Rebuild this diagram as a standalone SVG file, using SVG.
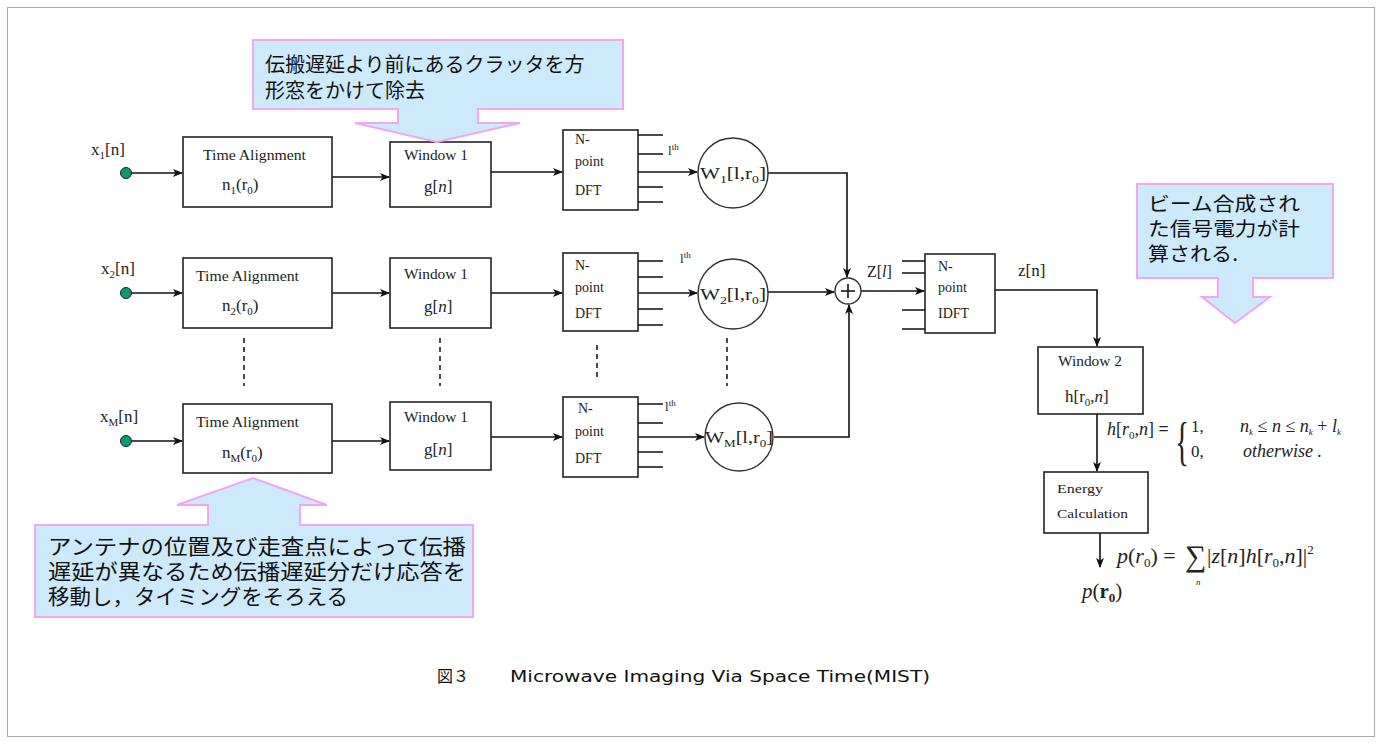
<svg xmlns="http://www.w3.org/2000/svg" width="1381" height="744" viewBox="0 0 1381 744">
<defs>
<marker id="ar" markerWidth="10" markerHeight="8" refX="9" refY="4" orient="auto" markerUnits="userSpaceOnUse">
<path d="M0,0 L10,4 L0,8 L2.5,4 Z" fill="#111"/>
</marker>
</defs>
<style>
.bx{fill:#fff;stroke:#222;stroke-width:1.6}
.ln{fill:none;stroke:#111;stroke-width:1.6}
.da{fill:none;stroke:#111;stroke-width:1.5;stroke-dasharray:5 4}
.t{font-family:"Liberation Serif",serif;fill:#222}
.s{font-size:14px}
.m{font-size:17px}
.co{fill:#cdeafc;stroke:#f2a6f0;stroke-width:2}
.j{font-family:"Noto Sans CJK JP",sans-serif;fill:#111}
.dot{fill:#0b9a6a;stroke:#124;stroke-width:1}
.cir{fill:#fff;stroke:#333;stroke-width:1.4}
</style>
<rect x="7.5" y="7.5" width="1367" height="729" fill="#fff" stroke="#aaa" stroke-width="1"/>

<g id="connectors">
<line class="ln" x1="130" y1="173" x2="182" y2="173" marker-end="url(#ar)"/>
<line class="ln" x1="130" y1="293" x2="182" y2="293" marker-end="url(#ar)"/>
<line class="ln" x1="130" y1="441" x2="182" y2="441" marker-end="url(#ar)"/>
<line class="ln" x1="332" y1="177" x2="389" y2="177" marker-end="url(#ar)"/>
<line class="ln" x1="332" y1="293" x2="389" y2="293" marker-end="url(#ar)"/>
<line class="ln" x1="332" y1="441" x2="389" y2="441" marker-end="url(#ar)"/>
<line class="ln" x1="491" y1="172" x2="562" y2="172" marker-end="url(#ar)"/>
<line class="ln" x1="491" y1="293" x2="562" y2="293" marker-end="url(#ar)"/>
<line class="ln" x1="491" y1="437" x2="562" y2="437" marker-end="url(#ar)"/>
<line class="ln" x1="638" y1="172" x2="697" y2="172" marker-end="url(#ar)"/>
<line class="ln" x1="638" y1="293" x2="697" y2="293" marker-end="url(#ar)"/>
<line class="ln" x1="638" y1="437" x2="704" y2="437" marker-end="url(#ar)"/>
<polyline class="ln" points="768,173 847,173 847,277" marker-end="url(#ar)"/>
<line class="ln" x1="768" y1="292" x2="834" y2="292" marker-end="url(#ar)"/>
<polyline class="ln" points="774,437 849,437 849,305" marker-end="url(#ar)"/>
<line class="ln" x1="861" y1="291" x2="924" y2="291" marker-end="url(#ar)"/>
<polyline class="ln" points="995,290 1097,290 1097,346" marker-end="url(#ar)"/>
<line class="ln" x1="1097" y1="414" x2="1097" y2="471" marker-end="url(#ar)"/>
<line class="ln" x1="1100" y1="533" x2="1100" y2="567" marker-end="url(#ar)"/>
<line class="da" x1="244" y1="338" x2="244" y2="386"/>
<line class="da" x1="440" y1="338" x2="440" y2="386"/>
<line class="da" x1="597" y1="345" x2="597" y2="380"/>
<line class="da" x1="727" y1="338" x2="727" y2="386"/>
</g>

<g id="in1"><circle class="dot" cx="126" cy="173" r="5.5"/><text class="t m" x="91" y="155">x<tspan font-size="11" dy="4">1</tspan><tspan dy="-4">[n]</tspan></text></g>
<g id="in2"><circle class="dot" cx="126" cy="293" r="5.5"/><text class="t m" x="101" y="274">x<tspan font-size="11" dy="4">2</tspan><tspan dy="-4">[n]</tspan></text></g>
<g id="inM"><circle class="dot" cx="126" cy="441" r="5.5"/><text class="t m" x="100" y="422">x<tspan font-size="11" dy="4">M</tspan><tspan dy="-4">[n]</tspan></text></g>

<g id="ta1"><rect class="bx" x="183" y="137" width="149" height="70"/><text class="t s" x="203" y="160" textLength="103" lengthAdjust="spacingAndGlyphs">Time Alignment</text><text class="t m" x="222" y="190">n<tspan font-size="11" dy="4">1</tspan><tspan dy="-4">(r</tspan><tspan font-size="11" dy="4">0</tspan><tspan dy="-4">)</tspan></text></g>
<g id="ta2"><rect class="bx" x="183" y="258" width="149" height="70"/><text class="t s" x="196" y="281" textLength="103" lengthAdjust="spacingAndGlyphs">Time Alignment</text><text class="t m" x="222" y="311">n<tspan font-size="11" dy="4">2</tspan><tspan dy="-4">(r</tspan><tspan font-size="11" dy="4">0</tspan><tspan dy="-4">)</tspan></text></g>
<g id="taM"><rect class="bx" x="183" y="404" width="149" height="69"/><text class="t s" x="196" y="427" textLength="103" lengthAdjust="spacingAndGlyphs">Time Alignment</text><text class="t m" x="222" y="458">n<tspan font-size="11" dy="4">M</tspan><tspan dy="-4">(r</tspan><tspan font-size="11" dy="4">0</tspan><tspan dy="-4">)</tspan></text></g>

<g id="w1"><rect class="bx" x="390" y="142" width="101" height="65"/><text class="t s" x="404" y="160" textLength="64" lengthAdjust="spacingAndGlyphs">Window 1</text><text class="t m" x="424" y="192">g[<tspan font-style="italic">n</tspan>]</text></g>
<g id="w2"><rect class="bx" x="390" y="258" width="101" height="70"/><text class="t s" x="404" y="279" textLength="64" lengthAdjust="spacingAndGlyphs">Window 1</text><text class="t m" x="424" y="312">g[<tspan font-style="italic">n</tspan>]</text></g>
<g id="wM"><rect class="bx" x="390" y="402" width="101" height="68"/><text class="t s" x="404" y="422" textLength="64" lengthAdjust="spacingAndGlyphs">Window 1</text><text class="t m" x="424" y="455">g[<tspan font-style="italic">n</tspan>]</text></g>

<g id="dft1"><rect class="bx" x="563" y="130" width="75" height="80"/>
<path class="ln" d="M638,135H663M638,154H663M638,187H663M638,202H663"/>
<text class="t s" x="575" y="144">N-</text><text class="t s" x="575" y="166">point</text><text class="t s" x="575" y="195">DFT</text>
<text class="t" font-size="13" x="668" y="155">l<tspan font-size="9" dy="-5">th</tspan></text></g>
<g id="dft2"><rect class="bx" x="563" y="253" width="75" height="78"/>
<path class="ln" d="M638,261H663M638,277H663M638,309H663M638,325H663"/>
<text class="t s" x="575" y="270">N-</text><text class="t s" x="575" y="292">point</text><text class="t s" x="575" y="318">DFT</text>
<text class="t" font-size="13" x="680" y="263">l<tspan font-size="9" dy="-5">th</tspan></text></g>
<g id="dftM"><rect class="bx" x="563" y="397" width="75" height="80"/>
<path class="ln" d="M638,404H663M638,423H663M638,452H663M638,467H663"/>
<text class="t s" x="578" y="413">N-</text><text class="t s" x="575" y="436">point</text><text class="t s" x="575" y="463">DFT</text>
<text class="t" font-size="13" x="665" y="411">l<tspan font-size="9" dy="-5">th</tspan></text></g>

<g id="c1"><circle class="cir" cx="733" cy="173" r="35"/><text class="t m" x="700" y="179" textLength="66" lengthAdjust="spacingAndGlyphs">W<tspan font-size="11" dy="4">1</tspan><tspan dy="-4">[l,r</tspan><tspan font-size="11" dy="4">0</tspan><tspan dy="-4">]</tspan></text></g>
<g id="c2"><circle class="cir" cx="733" cy="294" r="35"/><text class="t m" x="700" y="300" textLength="66" lengthAdjust="spacingAndGlyphs">W<tspan font-size="11" dy="4">2</tspan><tspan dy="-4">[l,r</tspan><tspan font-size="11" dy="4">0</tspan><tspan dy="-4">]</tspan></text></g>
<g id="cM"><circle class="cir" cx="739" cy="437" r="34"/><text class="t m" x="705" y="443" textLength="68" lengthAdjust="spacingAndGlyphs">W<tspan font-size="11" dy="4">M</tspan><tspan dy="-4">[l,r</tspan><tspan font-size="11" dy="4">0</tspan><tspan dy="-4">]</tspan></text></g>

<g id="sum"><circle class="cir" cx="848" cy="291" r="13"/><path class="ln" d="M841,291H855M848,284V298"/></g>
<text class="t" font-size="16" x="867" y="277">Z[<tspan font-style="italic">l</tspan>]</text>

<g id="idft"><rect class="bx" x="925" y="254" width="70" height="79"/>
<path class="ln" d="M902,261H925M902,273H925M902,310H925M902,329H925"/>
<text class="t s" x="938" y="271">N-</text><text class="t s" x="938" y="292">point</text><text class="t s" x="938" y="318">IDFT</text></g>
<text class="t m" x="1018" y="276">z[n]</text>

<g id="win2"><rect class="bx" x="1038" y="347" width="105" height="67"/><text class="t s" x="1058" y="366" textLength="64" lengthAdjust="spacingAndGlyphs">Window 2</text><text class="t m" x="1065" y="402">h[r<tspan font-size="11" dy="4">0</tspan><tspan dy="-4">,</tspan><tspan font-style="italic">n</tspan>]</text></g>
<g id="hdef">
<text class="t" font-size="18" x="1107" y="435"><tspan font-style="italic">h</tspan>[<tspan font-style="italic">r</tspan><tspan font-size="11" dy="4">0</tspan><tspan dy="-4">,</tspan><tspan font-style="italic">n</tspan>] <tspan font-weight="bold">=</tspan></text>
<text class="t" font-size="52" x="1169" y="459" transform="translate(1183,444) scale(0.55,1) translate(-1183,-444)">{</text>
<text class="t m" x="1191" y="432">1,</text>
<text class="t m" x="1191" y="457">0,</text>
<text class="t" font-size="18" font-style="italic" x="1240" y="432">n<tspan font-size="9" dy="3">k</tspan><tspan dy="-3" font-style="normal"> ≤ </tspan>n<tspan font-style="normal"> ≤ </tspan>n<tspan font-size="9" dy="3">k</tspan><tspan dy="-3" font-style="normal"> + </tspan>l<tspan font-size="9" dy="3">k</tspan></text>
<text class="t" font-size="18" font-style="italic" x="1243" y="457">otherwise .</text>
</g>

<g id="energy"><rect class="bx" x="1044" y="472" width="104" height="61"/><text class="t" font-size="13" x="1057" y="493" textLength="46" lengthAdjust="spacingAndGlyphs">Energy</text><text class="t" font-size="13" x="1057" y="518" textLength="71" lengthAdjust="spacingAndGlyphs">Calculation</text></g>
<g id="pdef">
<text class="t" font-size="22" x="1117" y="563"><tspan font-style="italic">p</tspan>(<tspan font-style="italic">r</tspan><tspan font-size="13" dy="4">0</tspan><tspan dy="-4">) =</tspan></text>
<text class="t" font-size="30" x="1185" y="566">∑</text>
<text class="t" font-size="9" font-style="italic" x="1196" y="585">n</text>
<text class="t" font-size="22" x="1207" y="563">|<tspan font-style="italic">z</tspan>[<tspan font-style="italic">n</tspan>]<tspan font-style="italic">h</tspan>[<tspan font-style="italic">r</tspan><tspan font-size="13" dy="4">0</tspan><tspan dy="-4">,</tspan><tspan font-style="italic">n</tspan>]|<tspan font-size="13" dy="-9">2</tspan></text>
</g>
<text class="t" font-size="21" x="1082" y="598"><tspan font-style="italic">p</tspan>(<tspan font-weight="bold">r</tspan><tspan font-size="13" font-weight="bold" dy="4">0</tspan><tspan dy="-4">)</tspan></text>

<g id="callout-top"><path class="co" d="M253,40H623V109H478V123H520L437,142L355,123H398V109H253Z"/>
<text class="j" font-size="20" x="265" y="72">伝搬遅延より前にあるクラッタを方</text>
<text class="j" font-size="20" x="265" y="98">形窓をかけて除去</text></g>
<g id="callout-right"><path class="co" d="M1137,184H1333V278H1253V297H1270L1235,323L1202,297H1218V278H1137Z"/>
<text class="j" font-size="19.5" x="1148" y="211" textLength="152" lengthAdjust="spacingAndGlyphs">ビーム合成され</text>
<text class="j" font-size="19.5" x="1148" y="236" textLength="152" lengthAdjust="spacingAndGlyphs">た信号電力が計</text>
<text class="j" font-size="19.5" x="1148" y="261" textLength="90" lengthAdjust="spacingAndGlyphs">算される.</text></g>
<g id="callout-bottom"><path class="co" d="M35,525H208V505H177L253,478L327,505H300V525H473V617H35Z"/>
<text class="j" font-size="21" x="48" y="554" textLength="418" lengthAdjust="spacingAndGlyphs">アンテナの位置及び走査点によって伝播</text>
<text class="j" font-size="21" x="48" y="579" textLength="418" lengthAdjust="spacingAndGlyphs">遅延が異なるため伝播遅延分だけ応答を</text>
<text class="j" font-size="21" x="48" y="604" textLength="300" lengthAdjust="spacingAndGlyphs">移動し，タイミングをそろえる</text></g>

<g id="caption">
<text class="j" font-size="16" x="437" y="682">図３</text>
<text font-family="DejaVu Sans, sans-serif" fill="#111" font-size="16" x="510" y="682" textLength="420" lengthAdjust="spacingAndGlyphs">Microwave Imaging Via Space Time(MIST)</text>
</g>
</svg>
